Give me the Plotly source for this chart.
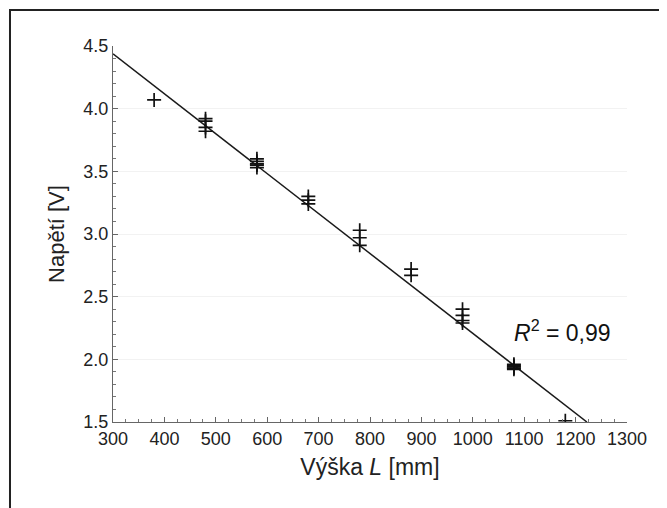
import plotly.graph_objects as go

# Measured data (height L in mm, voltage in V)
height_mm = [380,
             480, 480, 480, 480,
             580, 580, 580, 580, 580,
             680, 680, 680,
             780, 780, 780,
             880, 880,
             980, 980, 980, 980,
             1080, 1080, 1080, 1080, 1080,
             1180]
voltage_v = [4.07,
             3.92, 3.90, 3.85, 3.82,
             3.60, 3.58, 3.56, 3.55, 3.53,
             3.30, 3.27, 3.24,
             3.03, 2.97, 2.91,
             2.72, 2.67,
             2.40, 2.35, 2.31, 2.29,
             1.96, 1.95, 1.94, 1.93, 1.92,
             1.51]

# Linear fit endpoints
fit_x = [300, 1222]
fit_y = [4.437, 1.5]

x_ticks = [300, 400, 500, 600, 700, 800, 900, 1000, 1100, 1200, 1300]
y_ticks = [1.5, 2.0, 2.5, 3.0, 3.5, 4.0, 4.5]
r2_text = "<i>R</i><sup>2</sup> = 0,99"

FONT = "Arial, Liberation Sans, sans-serif"

fig = go.Figure()
fig.add_trace(go.Scatter(x=fit_x, y=fit_y, mode="lines",
                         line=dict(color="#1a1a1a", width=1.5),
                         showlegend=False, hoverinfo="skip"))
fig.add_trace(go.Scatter(x=height_mm, y=voltage_v, mode="markers",
                         marker=dict(symbol="cross-thin", size=10,
                                     line=dict(color="#111111", width=1.7)),
                         showlegend=False))

fig.add_annotation(x=1076, y=2.23, text=r2_text, showarrow=False,
                   xanchor="left", yanchor="middle",
                   font=dict(family=FONT, size=23, color="#111111"))

axis_common = dict(showline=True, linecolor="#666666", linewidth=1,
                   ticks="inside", ticklen=5, tickcolor="#666666",
                   tickfont=dict(family=FONT, size=18, color="#222222"),
                   zeroline=False)

fig.update_xaxes(range=[300, 1300], tickvals=x_ticks, showgrid=False,
                 minor=dict(dtick=25, ticks="inside", ticklen=3,
                            tickcolor="#777777", showgrid=False),
                 title=dict(text="Výška <i>L</i> [mm]",
                            font=dict(family=FONT, size=23, color="#222222"),
                            standoff=11),
                 **axis_common)
fig.update_yaxes(range=[1.5, 4.5], tickvals=y_ticks, tickformat=".1f",
                 showgrid=True, gridcolor="#f2f2f2", gridwidth=1,
                 minor=dict(dtick=0.1, ticks="inside", ticklen=3,
                            tickcolor="#777777", showgrid=False),
                 title=dict(text="Napětí [V]",
                            font=dict(family=FONT, size=22, color="#222222"),
                            standoff=12),
                 **axis_common)

# Outer frame (partially cut off at right and bottom like the reference)
fig.add_shape(type="rect", xref="paper", yref="paper",
              x0=-0.2004, x1=1.3, y0=-0.4, y1=1.0957,
              line=dict(color="#222222", width=2), layer="below")

fig.update_layout(width=667, height=508,
                  margin=dict(l=105, r=48, t=38, b=94),
                  plot_bgcolor="white", paper_bgcolor="white",
                  font=dict(family=FONT))

fig.write_html("out.html")
